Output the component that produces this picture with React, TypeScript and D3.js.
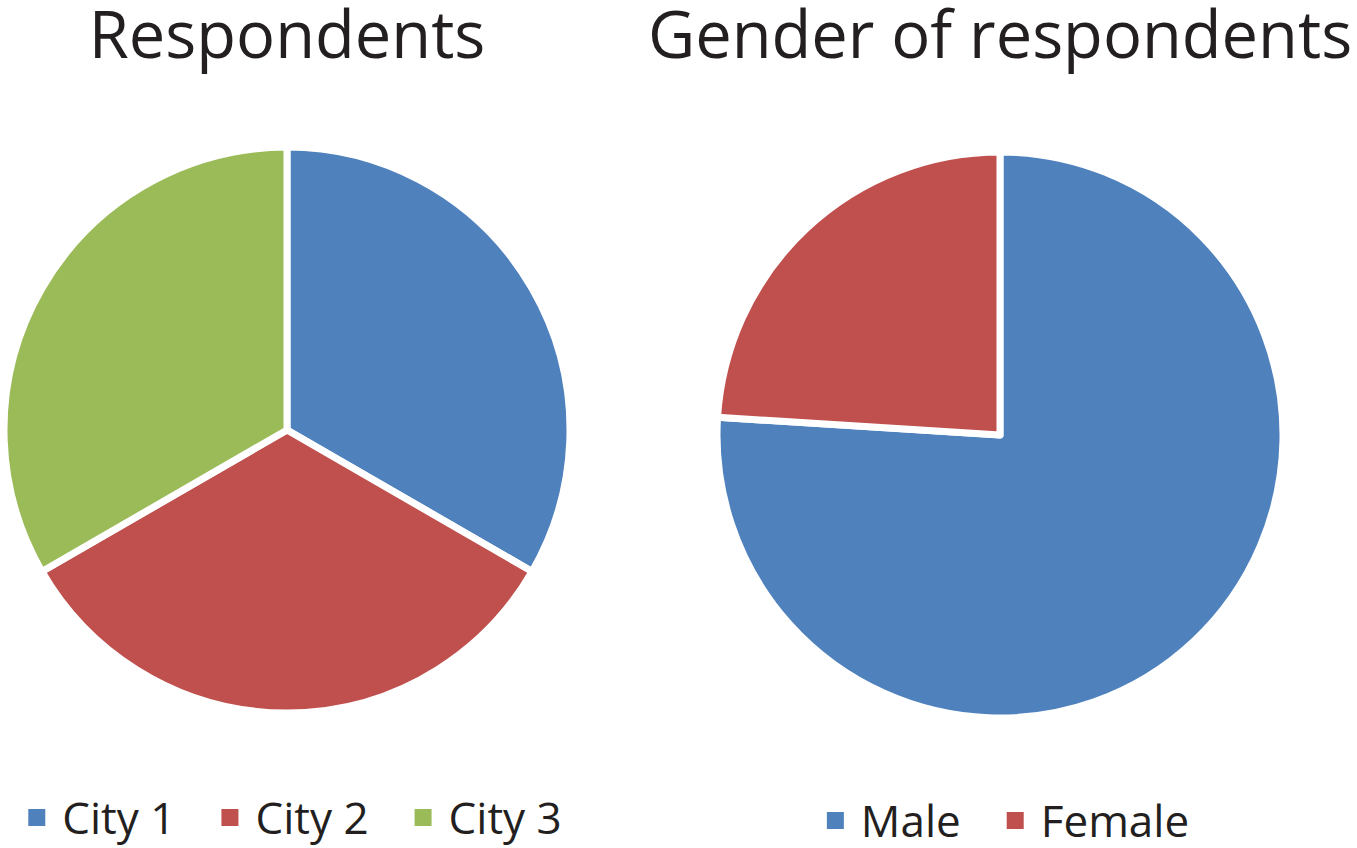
import { useEffect, useRef } from 'react'
import * as d3 from 'd3'

const cityLabels = ['City 1', 'City 2', 'City 3']
const cityValues = [33.3, 33.3, 33.3]
const genderLabels = ['Male', 'Female']
const genderValues = [76, 24]
const palette = ['#4F81BD', '#C0504D', '#9BBB59']

interface PieSpec {
  title: string
  labels: string[]
  values: number[]
  cx: number
  cy: number
  legendY: number
}

const WIDTH = 1357
const HEIGHT = 848
const FONT = '"Open Sans", "Liberation Sans", sans-serif'

export default function App() {
  const svgRef = useRef<SVGSVGElement>(null)

  useEffect(() => {
    if (!svgRef.current) return
    const root = d3.select(svgRef.current)
    root.selectAll('*').remove()

    const radius = 283
    const specs: PieSpec[] = [
      { title: 'Respondents', labels: cityLabels, values: cityValues, cx: 287, cy: 430, legendY: 834 },
      { title: 'Gender of respondents', labels: genderLabels, values: genderValues, cx: 1000, cy: 435, legendY: 837 },
    ]

    const color = d3.scaleOrdinal<string, string>().range(palette)

    specs.forEach((spec) => {
      color.domain(spec.labels)
      const g = root.append('g')

      // titre
      g.append('text')
        .attr('x', spec.cx)
        .attr('y', 58)
        .attr('text-anchor', 'middle')
        .attr('font-family', FONT)
        .attr('font-size', '65px')
        .attr('fill', '#231f20')
        .text(spec.title)

      const pie = d3
        .pie<number>()
        .sort(null)
        .value((d) => d)
      const arc = d3.arc<d3.PieArcDatum<number>>().innerRadius(0).outerRadius(radius)

      g.append('g')
        .attr('transform', `translate(${spec.cx},${spec.cy})`)
        .selectAll('path')
        .data(pie(spec.values))
        .join('path')
        .attr('d', arc)
        .attr('fill', (_, i) => color(spec.labels[i]))
        .attr('stroke', 'white')
        .attr('stroke-width', 7)
        .attr('stroke-linejoin', 'round')

      // légende
      const legend = g.append('g')
      let x = 0
      spec.labels.forEach((label, i) => {
        const item = legend.append('g').attr('transform', `translate(${x},0)`)
        item
          .append('rect')
          .attr('x', 0)
          .attr('y', -25)
          .attr('width', 17)
          .attr('height', 17)
          .attr('fill', color(label))
        const t = item
          .append('text')
          .attr('x', 34)
          .attr('y', 0)
          .attr('font-family', FONT)
          .attr('font-size', '44px')
          .attr('fill', '#231f20')
          .text(label)
        const w = (t.node() as SVGTextElement).getComputedTextLength()
        x += 34 + w + (i < spec.labels.length - 1 ? 46 : 0)
      })
      legend.attr('transform', `translate(${spec.cx + 8 - x / 2},${spec.legendY})`)
    })
  }, [])

  return (
    <div style={{ position: 'fixed', left: 0, top: 0, background: 'white' }}>
      <svg ref={svgRef} width={WIDTH} height={HEIGHT} style={{ display: 'block' }} />
    </div>
  )
}
